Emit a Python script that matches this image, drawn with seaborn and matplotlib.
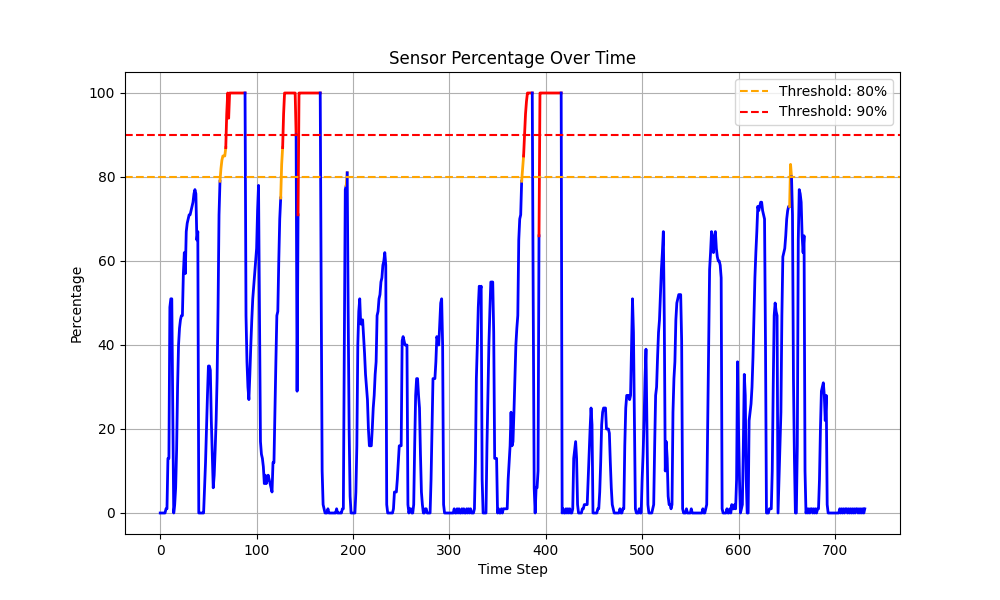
import numpy as np
import pandas as pd
import seaborn as sns
import matplotlib
matplotlib.use('Agg')
import matplotlib.pyplot as plt

# sensor reading (%) per time step
percentage = [
    0, 0, 0, 0, 0, 0, 1, 1, 13, 13,
    49, 51, 51, 25, 0, 2, 6, 15, 30, 40,
    44, 46, 47, 47, 57, 62, 57, 67, 69, 70,
    71, 71, 72, 73, 74, 76, 77, 76, 65, 67,
    0, 0, 0, 0, 0, 0, 6, 12, 20, 28,
    35, 35, 34, 22, 14, 6, 9, 15, 22, 32,
    49, 71, 79, 82, 84, 85, 85, 85, 87, 95,
    100, 94, 100, 100, 100, 100, 100, 100, 100, 100,
    100, 100, 100, 100, 100, 100, 100, 100, 100, 47,
    36, 30, 27, 33, 40, 46, 51, 54, 57, 60,
    63, 72, 78, 47, 17, 14, 13, 11, 7, 9,
    7, 8, 9, 8, 7, 6, 5, 12, 12, 24,
    36, 47, 48, 60, 70, 75, 83, 87, 95, 100,
    100, 100, 100, 100, 100, 100, 100, 100, 100, 100,
    100, 90, 29, 71, 100, 100, 100, 100, 100, 100,
    100, 100, 100, 100, 100, 100, 100, 100, 100, 100,
    100, 100, 100, 100, 100, 100, 100, 53, 10, 2,
    1, 0, 0, 0, 1, 0, 0, 0, 0, 0,
    0, 0, 0, 1, 0, 0, 0, 0, 0, 1,
    1, 40, 77, 78, 81, 48, 20, 4, 0, 0,
    0, 0, 0, 5, 16, 40, 48, 51, 45, 45,
    46, 42, 38, 33, 30, 27, 20, 16, 16, 16,
    20, 25, 28, 33, 36, 47, 48, 51, 52, 55,
    56, 59, 60, 62, 59, 2, 0, 0, 0, 0,
    0, 0, 1, 5, 5, 5, 8, 12, 16, 16,
    16, 41, 42, 41, 40, 40, 40, 2, 0, 1,
    1, 0, 0, 2, 16, 28, 32, 32, 28, 25,
    14, 5, 2, 0, 0, 1, 1, 0, 0, 0,
    0, 8, 20, 32, 32, 32, 36, 42, 41, 40,
    45, 50, 51, 40, 2, 0, 0, 0, 0, 0,
    0, 0, 0, 0, 0, 1, 0, 0, 1, 0,
    1, 0, 0, 1, 0, 1, 0, 0, 1, 0,
    1, 0, 1, 0, 0, 0, 1, 12, 32, 40,
    49, 54, 53, 54, 8, 0, 0, 0, 0, 16,
    28, 40, 48, 55, 55, 55, 43, 13, 13, 13,
    0, 1, 0, 0, 1, 0, 1, 1, 1, 1,
    1, 8, 12, 16, 24, 16, 17, 24, 32, 40,
    44, 47, 65, 70, 71, 79, 82, 85, 90, 95,
    98, 100, 100, 100, 100, 100, 100, 50, 6, 0,
    6, 6, 10, 66, 100, 100, 100, 100, 100, 100,
    100, 100, 100, 100, 100, 100, 100, 100, 100, 100,
    100, 100, 100, 100, 100, 100, 100, 0, 1, 0,
    0, 1, 0, 1, 0, 1, 0, 0, 1, 13,
    15, 17, 13, 2, 0, 0, 0, 0, 1, 1,
    2, 2, 2, 2, 8, 14, 20, 25, 21, 0,
    0, 0, 0, 0, 1, 1, 5, 12, 21, 24,
    25, 25, 25, 20, 20, 20, 19, 12, 6, 2,
    1, 0, 0, 0, 0, 0, 0, 1, 0, 0,
    1, 1, 16, 25, 28, 28, 28, 27, 28, 40,
    51, 43, 21, 1, 0, 0, 0, 1, 0, 0,
    8, 14, 22, 32, 39, 21, 2, 0, 0, 0,
    0, 1, 2, 16, 28, 30, 37, 43, 46, 52,
    58, 62, 67, 46, 10, 17, 13, 4, 2, 2,
    1, 2, 24, 32, 36, 46, 50, 51, 52, 52,
    52, 41, 1, 0, 0, 0, 1, 0, 0, 0,
    0, 1, 0, 0, 0, 0, 0, 0, 0, 0,
    0, 0, 0, 1, 0, 0, 1, 2, 20, 38,
    58, 62, 67, 64, 62, 66, 67, 63, 61, 60,
    60, 59, 56, 1, 0, 0, 0, 0, 1, 0,
    0, 1, 0, 2, 1, 1, 2, 1, 8, 36,
    20, 8, 0, 1, 2, 16, 33, 28, 8, 0,
    0, 22, 24, 26, 30, 37, 46, 56, 62, 67,
    73, 72, 73, 74, 74, 72, 71, 70, 40, 0,
    0, 0, 1, 1, 1, 10, 30, 47, 50, 48,
    47, 0, 8, 16, 24, 47, 61, 62, 63, 66,
    70, 72, 73, 73, 83, 80, 71, 32, 13, 0,
    0, 16, 65, 77, 76, 74, 66, 62, 66, 10,
    0, 1, 0, 1, 0, 1, 1, 0, 1, 0,
    1, 0, 1, 1, 8, 20, 29, 30, 31, 28,
    22, 28, 2, 0, 0, 0, 0, 0, 0, 0,
    0, 0, 0, 0, 0, 1, 0, 1, 0, 1,
    0, 1, 1, 0, 1, 0, 1, 0, 1, 0,
    1, 0, 1, 1, 0, 1, 0, 1, 0, 1,
    0, 1,
]

thresholds = [80, 90]
threshold_colors = ['orange', 'red']
level_colors = {'normal': 'blue', 'warn': 'orange', 'high': 'red'}


def level_of(v):
    if v >= thresholds[1]:
        return 'high'
    if v >= thresholds[0]:
        return 'warn'
    return 'normal'


# each segment takes the colour of the value it ends on;
# consecutive segments of the same colour are joined into one run
records = []
run = 0
prev = None
for k in range(len(percentage) - 1):
    lvl = level_of(percentage[k + 1])
    if prev is not None and lvl != prev:
        run += 1
    prev = lvl
    records.append((k, percentage[k], run, lvl))
    records.append((k + 1, percentage[k + 1], run, lvl))
df = pd.DataFrame(records, columns=['step', 'pct', 'run', 'level'])

fig, ax = plt.subplots(figsize=(10, 6))
# draw runs in time order so later segments sit on top
for r, part in df.groupby('run', sort=True):
    sns.lineplot(data=part, x='step', y='pct', estimator=None, sort=False,
                 color=level_colors[part['level'].iloc[0]], linewidth=2,
                 ax=ax)

for t, c in zip(thresholds, threshold_colors):
    ax.axhline(t, color=c, linestyle='--', label='Threshold: %d%%' % t)

ax.set_title('Sensor Percentage Over Time')
ax.set_xlabel('Time Step')
ax.set_ylabel('Percentage')
ax.legend(loc='upper right')
ax.grid(True)

plt.savefig('out.png', dpi=100)
